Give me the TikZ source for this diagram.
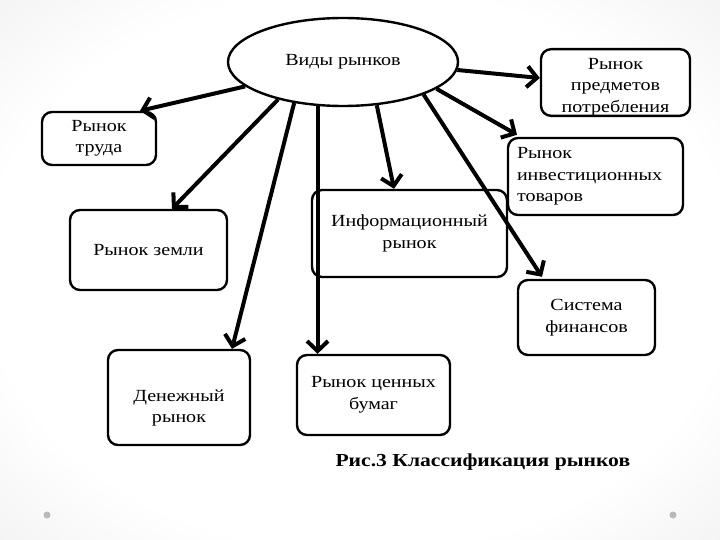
\documentclass[tikz,border=0pt]{standalone}
\usepackage{fontspec}
\setmainfont{Liberation Serif}[FakeStretch=1.18]
\usetikzlibrary{arrows.meta,calc,shapes.geometric}
\pgfdeclareradialshading{vig}{\pgfpoint{0bp}{0bp}}{color(0bp)=(white); color(26bp)=(white); color(50bp)=(gray!22); color(75bp)=(gray!30)}
\begin{document}
\begin{tikzpicture}[x=1pt,y=-1pt,
  box/.style={draw=black,line width=2.4pt,rounded corners=10pt,fill=white,align=center,
    inner sep=0pt,font=\fontsize{17}{21.5}\selectfont},
  arr/.style={line width=4pt,-{Straight Barb[length=10pt,width=21pt]}},
  dot/.style={circle,fill=gray!55,inner sep=0pt,minimum size=7pt}]
\useasboundingbox (0,0) rectangle (720,540);
\shade[shading=vig] (0,0) rectangle (720,540);
\node[dot] (d1) at (47,515) {};
\node[dot] (d2) at (673,515) {};
% nodes
\node[draw=black,line width=2.4pt,ellipse,fill=white,minimum width=230pt,minimum height=88pt,
  inner sep=0pt,font=\fontsize{17}{21}\selectfont] (e) at (343,62) {Виды рынков};
\node[box,minimum width=149pt,minimum height=65pt] (pp) at (615.5,82.5) {\parbox[c][63pt][b]{140pt}{\centering Рынок\\предметов\\потребления}};
\node[box,minimum width=114pt,minimum height=53pt] (tr) at (99,138.5) {Рынок\\труда};
\node[box,minimum width=175pt,minimum height=77pt,align=left,text width=157pt] (inv) at (595.5,176.5) {Рынок\\инвестиционных\\товаров};
\node[box,minimum width=157pt,minimum height=80pt] (zem) at (148.5,250) {Рынок земли};
\node[box,minimum width=195pt,minimum height=87pt] (inf) at (409.5,233.5) {Информационный\\рынок};
\node[box,minimum width=137pt,minimum height=75pt] (sf) at (586.5,317.5) {Система\\финансов};
\node[box,minimum width=142pt,minimum height=95pt] (den) at (179,397.5) {\parbox[c][54pt][b]{130pt}{\centering Денежный\\рынок}};
\node[box,minimum width=153pt,minimum height=80pt] (cb) at (373.5,395) {Рынок ценных\\бумаг};
\node[font=\fontsize{18.3}{22}\selectfont\bfseries,anchor=west] (cap) at (332,462) {Рис.3 Классификация рынков};
% connectors
\draw[arr] (e.194) -- ($(tr.north)+(41,0)$);
\draw[arr] (e.210) -- ($(zem.north)+(23.5,0)$);
\draw[arr] (e.220) -- ($(den.north)+(53,0)$);
\draw[arr] (e.240) -- (e.240 |- cb.north);
\draw[arr] (e.308) -- ($(inf.north)+(-15.5,0)$);
\draw[arr] (e.338) -- ($(sf.north)+(-44.5,-2)$);
\draw[arr] (e.344) -- ($(inv.north)+(-78.5,-2)$);
\draw[arr] (e.356) -- ($(pp.west)+(0,-4.5)$);
\end{tikzpicture}
\end{document}
